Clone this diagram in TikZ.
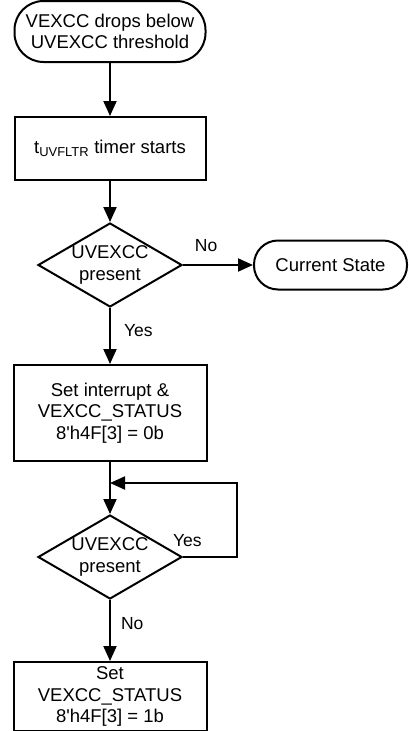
\documentclass[tikz,border=0pt]{standalone}
\usepackage{fontspec}
\setmainfont{Liberation Sans}
\usetikzlibrary{positioning,arrows.meta,shapes.geometric}

\begin{document}
\begin{tikzpicture}[
  x=1pt, y=1pt,
  box/.style={draw=black, line width=2pt, align=center, inner sep=0pt, font=\fontsize{18.5}{21.5}\selectfont},
  term/.style={box, rounded corners=24pt},
  stepbox/.style={box, minimum width=193pt},
  decide/.style={box, diamond, aspect=1.7, minimum width=144pt, minimum height=84pt},
  arrow/.style={-{Triangle[length=15pt,width=13pt]}, line width=2pt},
  lab/.style={inner sep=0pt, font=\fontsize{17.5}{20}\selectfont}
]
\useasboundingbox (0,0) rectangle (409,-731);

% Main column: detection
\node[term, rounded corners=29pt, minimum width=191pt, minimum height=61pt] (start) at (110,-31.5) {VEXCC drops below\\UVEXCC threshold};
\node[stepbox, minimum width=191pt, minimum height=63pt, below=53pt of start] (timer) {t\textsubscript{UVFLTR} timer starts};
\node[decide, below=41pt of timer] (dec1) {UVEXCC\\present};
\node[term, minimum width=153pt, minimum height=49pt, right=70pt of dec1] (cur) {Current State};

% Main column: status update
\node[stepbox, minimum height=96pt, below=56pt of dec1] (irq) {Set interrupt \&\\VEXCC\_STATUS\\8\textquotesingle h4F[3] = 0b};
\node[decide, below=52pt of irq] (dec2) {UVEXCC\\present};
\node[stepbox, minimum height=69pt, below=61pt of dec2] (set) {Set\\VEXCC\_STATUS\\8\textquotesingle h4F[3] = 1b};

% Wait loop
\coordinate[below=21pt of irq] (join);
\coordinate[right=127pt of join] (loop);

\draw[arrow] (start) -- (timer);
\draw[arrow] (timer) -- (dec1);
\draw[arrow] (dec1) -- node[lab, above=12pt, pos=0.33] {No} (cur);
\draw[arrow] (dec1) -- node[lab, right=13pt, pos=0.41] {Yes} (irq);
\draw[arrow] (irq) -- (dec2);
\draw[arrow] (dec2.east) -| node[lab, above=9pt, pos=0.04] {Yes} (loop) -- (join);
\draw[arrow] (dec2) -- node[lab, right=10pt, pos=0.38] {No} (set);
\end{tikzpicture}
\end{document}
